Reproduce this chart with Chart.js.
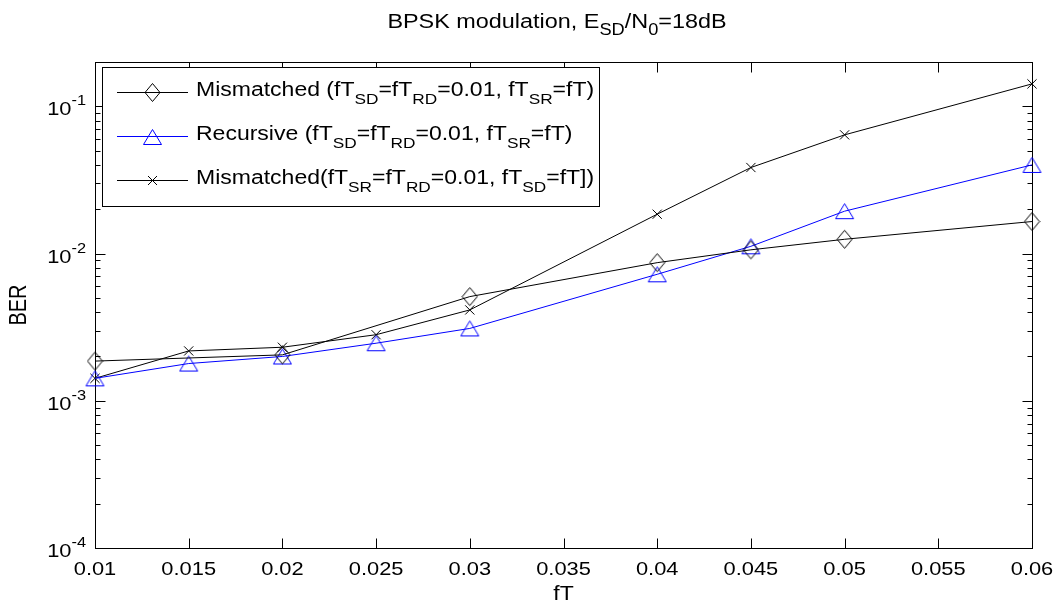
<!DOCTYPE html>
<html>
<head>
<meta charset="utf-8">
<script src="https://cdn.jsdelivr.net/npm/chart.js@4.4.1/dist/chart.umd.min.js"></script>
<style>
html,body{margin:0;padding:0;background:#fff;overflow:hidden;}
#wrap{width:1053px;height:609px;position:relative;}
</style>
</head>
<body>
<div id="wrap"><canvas id="c" width="1053" height="609"></canvas></div>
<script>
// ---------------- data ----------------
const xTickValues = [0.01, 0.015, 0.02, 0.025, 0.03, 0.035, 0.04, 0.045, 0.05, 0.055, 0.06];
const xTickLabels = ['0.01', '0.015', '0.02', '0.025', '0.03', '0.035', '0.04', '0.045', '0.05', '0.055', '0.06'];
const yTickExponents = [-4, -3, -2, -1];
const yTickLabels = ['-4', '-3', '-2', '-1'];

const fTMismatchedSD = [0.01, 0.02, 0.03, 0.04, 0.045, 0.05, 0.06];
const berMismatchedSD = [1.86e-3, 2.05e-3, 5.1e-3, 8.67e-3, 1.06e-2, 1.25e-2, 1.65e-2];

const fTRecursive = [0.01, 0.015, 0.02, 0.025, 0.03, 0.04, 0.045, 0.05, 0.06];
const berRecursive = [1.42e-3, 1.79e-3, 2.0e-3, 2.46e-3, 3.10e-3, 7.23e-3, 1.12e-2, 1.94e-2, 4.0e-2];

const fTMismatchedSR = [0.01, 0.015, 0.02, 0.025, 0.03, 0.04, 0.045, 0.05, 0.06];
const berMismatchedSR = [1.42e-3, 2.18e-3, 2.31e-3, 2.81e-3, 4.14e-3, 1.85e-2, 3.84e-2, 6.4e-2, 1.42e-1];

const titleParts = [['BPSK modulation, E', ''], ['SD', 'sub'], ['/N', ''], ['0', 'sub'], ['=18dB', '']];
const legendParts = [
  [['Mismatched (fT', ''], ['SD', 'sub'], ['=fT', ''], ['RD', 'sub'], ['=0.01, fT', ''], ['SR', 'sub'], ['=fT)', '']],
  [['Recursive (fT', ''], ['SD', 'sub'], ['=fT', ''], ['RD', 'sub'], ['=0.01, fT', ''], ['SR', 'sub'], ['=fT)', '']],
  [['Mismatched(fT', ''], ['SR', 'sub'], ['=fT', ''], ['RD', 'sub'], ['=0.01, fT', ''], ['SD', 'sub'], ['=fT])', '']]
];
const xTitle = 'fT';
const yTitle = 'BER';
const yMin = 1e-4, yMax = 0.2, xMin = 0.01, xMax = 0.06;

// ---------------- marker images ----------------
function makeDiamond(color) {
  const c = document.createElement('canvas'); c.width = 17; c.height = 21;
  const g = c.getContext('2d'); g.strokeStyle = color; g.lineWidth = 1;
  g.beginPath(); g.moveTo(8.5, 1.5); g.lineTo(16, 10.5); g.lineTo(8.5, 19.5); g.lineTo(1, 10.5); g.closePath(); g.stroke();
  return c;
}
function makeTriangle(color) {
  const c = document.createElement('canvas'); c.width = 21; c.height = 18;
  const g = c.getContext('2d'); g.strokeStyle = color; g.lineWidth = 1;
  g.beginPath(); g.moveTo(10.5, 1.5); g.lineTo(19.5, 16.5); g.lineTo(1.5, 16.5); g.closePath(); g.stroke();
  return c;
}
function makeCross(color) {
  const c = document.createElement('canvas'); c.width = 11; c.height = 11;
  const g = c.getContext('2d'); g.strokeStyle = color; g.lineWidth = 1;
  g.beginPath(); g.moveTo(1, 1); g.lineTo(10, 10); g.moveTo(10, 1); g.lineTo(1, 10); g.stroke();
  return c;
}
const diamondImg = makeDiamond('#000');
const triangleImg = makeTriangle('#0000ff');
const crossImg = makeCross('#000');

// ---------------- text helper ----------------
const FONT = '"Liberation Sans", Arial, Helvetica, sans-serif';
function richWidth(ctx, parts, o) {
  let w = 0;
  for (const [t, m] of parts) {
    const fs = m ? o.size * o.subScale : o.size;
    ctx.font = fs + 'px ' + FONT;
    w += ctx.measureText(t).width * o.sx;
  }
  return w;
}
function drawRich(ctx, parts, x, y, o) {
  const total = richWidth(ctx, parts, o);
  let cx = o.align === 'center' ? x - total / 2 : (o.align === 'right' ? x - total : x);
  ctx.fillStyle = '#000'; ctx.textBaseline = 'alphabetic'; ctx.textAlign = 'left';
  for (const [t, m] of parts) {
    const fs = m ? o.size * o.subScale : o.size;
    const dy = m === 'sub' ? o.subDy : (m === 'sup' ? -o.supDy : 0);
    ctx.font = fs + 'px ' + FONT;
    const w = ctx.measureText(t).width * o.sx;
    ctx.save(); ctx.translate(cx, y + dy); ctx.scale(o.sx, 1); ctx.fillText(t, 0, 0); ctx.restore();
    cx += w;
  }
}

// ---------------- plugin: axes box, ticks, labels, legend, title ----------------
const matlabAxes = {
  id: 'matlabAxes',
  beforeDatasetsDraw(chart) {
    const ctx = chart.ctx, a = chart.chartArea;
    const xs = chart.scales.x, ys = chart.scales.y;
    ctx.save();
    ctx.strokeStyle = '#000'; ctx.lineWidth = 1;
    ctx.beginPath();
    const L = Math.round(a.left) + 0.5, R = Math.round(a.right) + 0.5, T = Math.round(a.top) + 0.5, B = Math.round(a.bottom) + 0.5;
    xTickValues.forEach(v => {
      const px = Math.round(xs.getPixelForValue(v)) + 0.5;
      ctx.moveTo(px, B); ctx.lineTo(px, B - 10);
      ctx.moveTo(px, T); ctx.lineTo(px, T + 10);
    });
    yTickExponents.forEach(e => {
      for (let m = 1; m <= 9; m++) {
        const v = m * Math.pow(10, e);
        if (v > yMax * 1.0001) continue;
        const py = Math.round(ys.getPixelForValue(v)) + 0.5;
        const len = m === 1 ? 10 : 5;
        ctx.moveTo(L, py); ctx.lineTo(L + len, py);
        ctx.moveTo(R, py); ctx.lineTo(R - len, py);
      }
    });
    ctx.stroke();
    ctx.strokeRect(L, T, R - L, B - T);
    ctx.restore();
  },
  afterDraw(chart) {
    const ctx = chart.ctx, a = chart.chartArea;
    const xs = chart.scales.x, ys = chart.scales.y;
    ctx.save();
    // x tick labels
    xTickValues.forEach((v, i) => {
      drawRich(ctx, [[xTickLabels[i], '']], xs.getPixelForValue(v), a.bottom + 27,
        { size: 19, sx: 1.15, align: 'center', subScale: 0.75, subDy: 7, supDy: 9 });
    });
    // y tick labels 10^e
    yTickExponents.forEach((e, i) => {
      drawRich(ctx, [['10', ''], [yTickLabels[i], 'sup']], 86, ys.getPixelForValue(Math.pow(10, e)) + 9,
        { size: 19, sx: 1.15, align: 'right', subScale: 0.75, subDy: 7, supDy: 10 });
    });
    // axis titles
    drawRich(ctx, [[xTitle, '']], (a.left + a.right) / 2, 600,
      { size: 20, sx: 1.15, align: 'center', subScale: 0.75, subDy: 7, supDy: 9 });
    ctx.save();
    ctx.translate(26, (a.top + a.bottom) / 2);
    ctx.rotate(-Math.PI / 2);
    ctx.scale(1, 1.15);
    drawRich(ctx, [[yTitle, '']], 0, 0, { size: 20, sx: 1, align: 'center', subScale: 0.75, subDy: 7, supDy: 9 });
    ctx.restore();
    // title
    drawRich(ctx, titleParts, 557, 28, { size: 20, sx: 1.17, align: 'center', subScale: 0.78, subDy: 7, supDy: 9 });
    // legend
    const bx = 102.5, by = 67.5, bw = 497, bh = 139;
    ctx.fillStyle = '#fff'; ctx.fillRect(bx, by, bw, bh);
    ctx.strokeStyle = '#000'; ctx.lineWidth = 1; ctx.strokeRect(bx, by, bw, bh);
    const rows = [92.5, 136.5, 180.5];
    const colors = ['#000', '#0000ff', '#000'];
    const imgs = [diamondImg, triangleImg, crossImg];
    rows.forEach((ry, i) => {
      ctx.strokeStyle = colors[i]; ctx.lineWidth = 1;
      ctx.beginPath(); ctx.moveTo(117, ry); ctx.lineTo(188, ry); ctx.stroke();
      const im = imgs[i];
      ctx.drawImage(im, Math.round(152.5 - im.width / 2), Math.round(ry - im.height / 2));
      drawRich(ctx, legendParts[i], 196, ry + 3, { size: 20, sx: 1.15, align: 'left', subScale: 0.75, subDy: 8, supDy: 9 });
    });
    ctx.restore();
  }
};

// ---------------- chart ----------------
function pts(xs, ys) { return xs.map((x, i) => ({ x: x, y: ys[i] })); }

new Chart(document.getElementById('c'), {
  type: 'scatter',
  data: {
    datasets: [
      { label: 'Mismatched SD', data: pts(fTMismatchedSD, berMismatchedSD), showLine: true,
        borderColor: '#000', borderWidth: 1, pointStyle: diamondImg, pointRadius: 8, clip: false },
      { label: 'Recursive', data: pts(fTRecursive, berRecursive), showLine: true,
        borderColor: '#0000ff', borderWidth: 1, pointStyle: triangleImg, pointRadius: 8, clip: false },
      { label: 'Mismatched SR', data: pts(fTMismatchedSR, berMismatchedSR), showLine: true,
        borderColor: '#000', borderWidth: 1, pointStyle: 'crossRot', pointRadius: 6.5,
        pointBorderColor: '#000', pointBorderWidth: 1, clip: false }
    ]
  },
  options: {
    responsive: false,
    animation: false,
    events: [],
    layout: { padding: { left: 95, right: 21, top: 62, bottom: 61 } },
    plugins: { legend: { display: false }, title: { display: false }, tooltip: { enabled: false } },
    scales: {
      x: { type: 'linear', min: xMin, max: xMax, display: false },
      y: { type: 'logarithmic', min: yMin, max: yMax, display: false }
    }
  },
  plugins: [matlabAxes]
});
</script>
</body>
</html>
